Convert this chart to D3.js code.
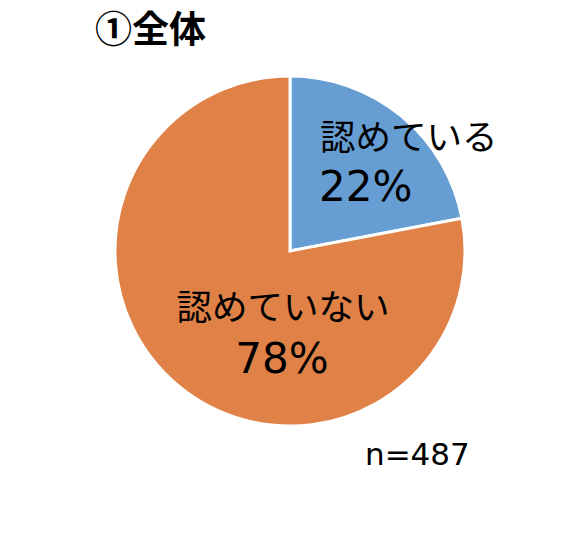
<!DOCTYPE html>
<html><head><meta charset="utf-8">
<script src="https://cdn.jsdelivr.net/npm/d3@7"></script>
<style>body{margin:0;background:#fff}</style>
</head><body>
<svg id="c" width="576" height="550"></svg>
<script>
const categories = ["認めている", "認めていない"];
const values = [22, 78];
const colors = ["#669dd3", "#e08247"];
const title = "①全体";
const nLabel = "n=487";

const svg = d3.select("#c");
const font = "'Noto Sans CJK JP', 'Noto Sans', sans-serif";
const cx = 290, cy = 251, r = 175;

const pie = d3.pie().sort(null).value(d => d)(values);
const arc = d3.arc().innerRadius(0).outerRadius(r);
const g = svg.append("g").attr("transform", `translate(${cx},${cy})`);
g.selectAll("path").data(pie).join("path")
  .attr("d", arc)
  .attr("fill", (d, i) => colors[i])
  .attr("stroke", "#fff").attr("stroke-width", 3);

// labels
const labelPos = [
  {x: 320, y: 150, anchor: "start", px: 319, py: 201},
  {x: 283, y: 320, anchor: "middle", px: 282, py: 373}
];
pie.forEach((d, i) => {
  const p = labelPos[i];
  svg.append("text").attr("x", p.x).attr("y", p.y)
    .attr("text-anchor", p.anchor)
    .attr("font-family", font).attr("font-size", 35.5).attr("fill", "#000")
    .text(categories[i]);
  svg.append("text").attr("x", p.px).attr("y", p.py)
    .attr("text-anchor", p.anchor)
    .attr("font-family", "'DejaVu Sans', sans-serif").attr("font-size", 42).attr("fill", "#000")
    .text(d3.format(".0f")(d.data) + "%");
});

svg.append("text").attr("x", 95).attr("y", 43)
  .attr("font-family", font).attr("font-size", 37).attr("font-weight", "bold")
  .text(title);

svg.append("text").attr("x", 365).attr("y", 465)
  .attr("font-family", "'DejaVu Sans', sans-serif").attr("font-size", 31)
  .text(nLabel);
</script>
</body></html>
